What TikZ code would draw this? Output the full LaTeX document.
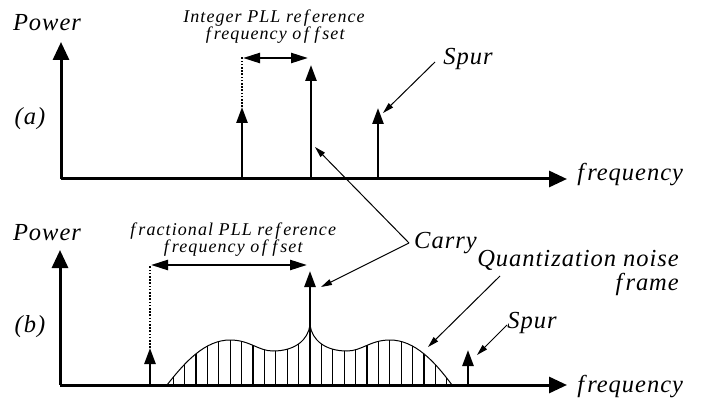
\documentclass[tikz,border=0pt]{standalone}
\usepackage{fontspec}
\setmainfont{Liberation Serif}
\newfontfamily\biglab[LetterSpace=4]{Liberation Serif}
\newfontfamily\smalllab[LetterSpace=6]{Liberation Serif}
\usetikzlibrary{arrows.meta}
\newcommand\fsp{\kern2.5pt f\kern3pt}
\begin{document}
\begin{tikzpicture}[x=1pt,y=-1pt,
  axisline/.style={line width=3pt,-{Triangle[length=18pt,width=16pt]}},
  spikeline/.style={line width=2.6pt,-{Triangle[length=16pt,width=11pt]}},
  dotline/.style={line width=2.2pt,dash pattern=on 1.6pt off 1.6pt},
  dblarrow/.style={line width=2.4pt,{Triangle[length=17pt,width=10pt]}-{Triangle[length=17pt,width=10pt]}},
  thinarrow/.style={line width=1pt,-{Triangle[length=11pt,width=6pt]}},
  biglabel/.style={font=\fontsize{24.5}{26}\biglab\itshape,inner sep=0pt},
  smalllabel/.style={font=\fontsize{18}{20}\smalllab\itshape,inner sep=0pt,align=center}
]
\useasboundingbox (0,0) rectangle (702,401);
% ---------- panel (a) ----------
\coordinate (aO) at (61,179);
\coordinate (aY) at (61,42);
\coordinate (aX) at (567,179);
\draw[axisline] (aO) -- (aY);
\draw[axisline] (aO) -- (aX);
\coordinate (a1b) at (242,179); \coordinate (a1t) at (242,107); \coordinate (a1d) at (242,57);
\coordinate (a2b) at (311,179); \coordinate (a2t) at (311,65);
\coordinate (a3b) at (378,179); \coordinate (a3t) at (378,108);
\draw[spikeline] (a1b) -- (a1t);
\draw[dotline] (a1t) -- (a1d);
\draw[spikeline] (a2b) -- (a2t);
\draw[spikeline] (a3b) -- (a3t);
\coordinate (ada) at (243,58); \coordinate (adb) at (308,58);
\draw[dblarrow] (ada) -- (adb);
\node[biglabel] (apower) at (47,23) {Power};
\node[biglabel] (alab) at (30,119) {(\kern1pt a\kern1pt)};
\node[smalllabel] (aint) at (274,27) {Integer PLL re\fsp erence\\[-3pt]\fsp requency o\fsp\fsp set};
\node[biglabel] (aspur) at (468,59) {Spur};
\node[biglabel] (afreq) at (629,175) {\fsp requency};
\coordinate (aspurst) at (435,62);
\coordinate (aspurtip) at (383,113);
\draw[thinarrow] (aspurst) -- (aspurtip);
% ---------- panel (b) ----------
\coordinate (bO) at (60,385);
\coordinate (bY) at (60,250);
\coordinate (bX) at (567,385);
% noise region
\def\noisepath{(167,385) .. controls (185,362) and (205,340) .. (230,340)
  .. controls (250,340) and (258,351) .. (273,351)
  .. controls (295,351) and (308,340) .. (310,325)
  .. controls (312,340) and (325,351) .. (347,351)
  .. controls (362,351) and (370,340) .. (390,340)
  .. controls (415,340) and (435,362) .. (452,385)}
\begin{scope}
  \clip \noisepath -- cycle;
  \foreach \k in {-12,...,12} {
    \draw[line width=1.2pt] (310+\k*11.4,386) -- (310+\k*11.4,320);
  }
\end{scope}
\draw[line width=1pt] \noisepath;
\draw[axisline] (bO) -- (bY);
\draw[axisline] (bO) -- (bX);
\coordinate (b1b) at (150,385); \coordinate (b1t) at (150,348); \coordinate (b1d) at (150,265);
\coordinate (b2b) at (310,385); \coordinate (b2t) at (310,271);
\coordinate (b3b) at (468,385); \coordinate (b3t) at (468,350);
\draw[spikeline] (b1b) -- (b1t);
\draw[dotline] (b1t) -- (b1d);
\draw[spikeline] (b2b) -- (b2t);
\draw[spikeline] (b3b) -- (b3t);
\coordinate (bda) at (151,265); \coordinate (bdb) at (307,265);
\draw[dblarrow] (bda) -- (bdb);
\node[biglabel] (bpower) at (47,233) {Power};
\node[biglabel] (blab) at (30,327) {(\kern1pt b\kern1pt)};
\node[smalllabel] (bfrac) at (232,240) {\fsp ractional PLL re\fsp erence\\[-3pt]\fsp requency o\fsp\fsp set};
\node[biglabel,anchor=west] (carry) at (414,243) {Carry};
\node[biglabel,align=right,anchor=north east] (quant) at (679,250) {Quantization noise\\[-2pt]\fsp rame};
\node[biglabel] (bspur) at (532,323) {Spur};
\node[biglabel] (bfreq) at (629,387) {\fsp requency};
\coordinate (carryv) at (409,243);
\coordinate (ctop) at (315,147);
\coordinate (cbot) at (321,287);
\draw[thinarrow] (carryv) -- (ctop);
\draw[thinarrow] (carryv) -- (cbot);
\coordinate (qst) at (500,276); \coordinate (qtip) at (428,347);
\draw[thinarrow] (qst) -- (qtip);
\coordinate (bsst) at (507,325); \coordinate (bstip) at (477,355);
\draw[thinarrow] (bsst) -- (bstip);
\end{tikzpicture}
\end{document}
